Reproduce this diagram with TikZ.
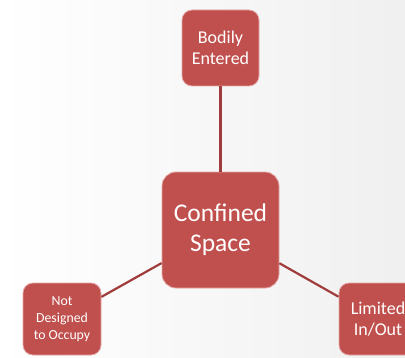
\documentclass[tikz,border=0pt]{standalone}
\usepackage{fontspec}
\setmainfont{Carlito}
\definecolor{boxred}{HTML}{C0504D}
\definecolor{rimred}{HTML}{E3A9A7}
\definecolor{linkred}{HTML}{A03C3B}
\tikzset{
  termbox/.style={draw=rimred, line width=0.8pt, fill=boxred, text=white,
    rounded corners=10pt, align=center, inner sep=2pt},
  link/.style={draw=linkred, line width=2.2pt}
}

\begin{document}
\begin{tikzpicture}[x=1pt, y=1pt]
  % page and soft background
  \useasboundingbox (0,0) rectangle (405,357);
  \shade[left color=white, right color=black!6] (0,0) rectangle (405,357);

  % central term
  \node[termbox, rounded corners=14pt, minimum width=117pt, minimum height=116pt,
    font=\fontsize{25.5}{30}\selectfont] (confined) at (220.5,127) {Confined\\Space};

  % surrounding terms
  \node[termbox, minimum width=77pt, minimum height=76pt,
    font=\fontsize{18}{20.5}\selectfont] (bodily) at (220.5,309) {Bodily\\Entered};
  \node[termbox, minimum width=78pt, minimum height=72pt,
    font=\fontsize{13.8}{17}\selectfont] (notdesigned) at (62,38) {Not\\Designed\\to Occupy};
  \node[termbox, minimum width=78pt, minimum height=72pt,
    font=\fontsize{18}{20.5}\selectfont] (limited) at (378,38) {Limited\\In/Out};

  % links
  \draw[link] (bodily) -- (confined);
  \draw[link] (confined) -- (notdesigned);
  \draw[link] (confined) -- (limited);
\end{tikzpicture}
\end{document}
